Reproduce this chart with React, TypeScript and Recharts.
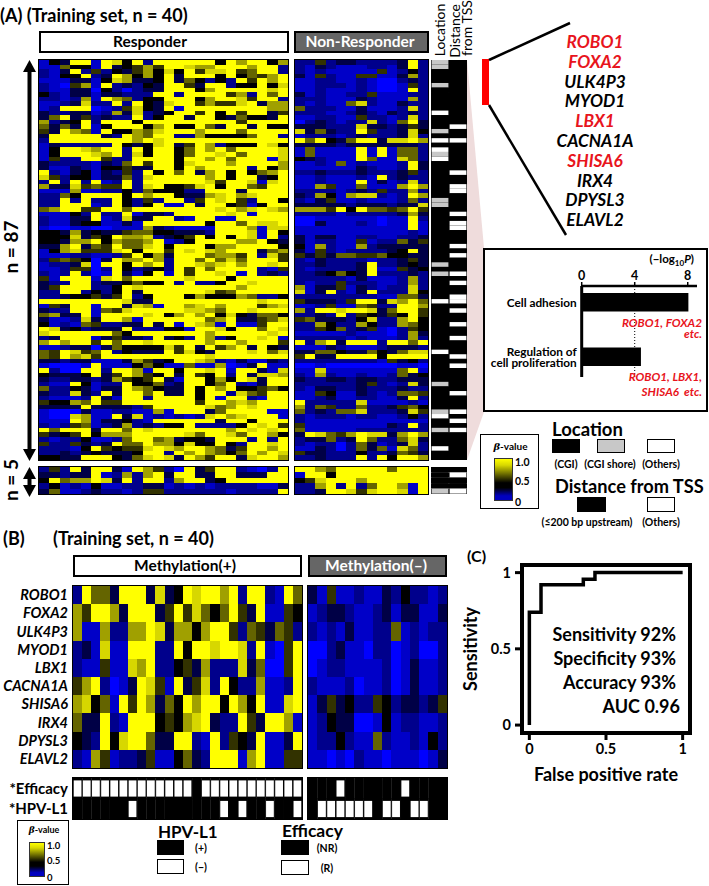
import React from 'react';
import {
  BarChart, Bar, LineChart, Line, XAxis, YAxis, ReferenceLine, ReferenceArea,
} from 'recharts';

// beta-value steps, digit 0 (blue) .. 4 (black) .. 9 (yellow)
const betaColors = ['#0000ff', '#0000c8', '#00008c', '#000046', '#000000', '#323200', '#646400', '#a0a000', '#d7d700', '#ffff00'];
const stripColors = ['#000000', '#c8c8c8', '#ffffff'];
const flagColors = ['#000000', '#ffffff'];

const responderRows = [
  '1 4 3 9 9 1 9 8 4 9 2 9 9 9 9 9 9 4 9 7 9 9 4 7',
  '1 1 6 4 4 1 9 3 4 5 7 5 9 9 8 7 7 9 9 9 7 9 9 2',
  '2 1 3 9 2 5 2 4 3 5 7 4 8 4 9 5 8 8 9 5 6 9 9 2',
  '2 1 4 4 9 2 3 9 7 4 7 4 9 3 9 9 9 4 9 4 6 5 7 9',
  '1 1 1 3 3 1 4 8 7 3 3 4 9 3 6 4 2 4 2 9 5 9 7 9',
  '2 1 0 5 7 1 9 2 3 2 4 3 9 9 5 3 9 9 2 4 4 9 4 8',
  '2 1 1 3 3 0 4 2 0 2 3 3 9 9 9 4 7 9 9 9 9 9 8 9',
  '4 2 1 3 3 1 3 3 2 2 2 9 9 2 9 9 9 9 5 7 2 9 6 9',
  '2 2 1 2 7 1 9 7 6 2 4 4 9 9 9 4 7 9 9 8 5 9 9 2',
  '1 1 2 3 8 2 2 9 2 9 4 3 8 9 9 5 7 5 5 8 9 3 7 7',
  '1 2 9 9 9 0 1 2 5 8 4 3 9 1 9 9 9 9 9 9 9 9 7 7',
  '3 2 2 3 3 1 2 7 3 8 2 3 4 9 9 5 9 4 9 5 9 9 3 5',
  '3 6 9 3 5 2 3 2 2 9 2 4 9 9 3 9 9 4 3 6 4 4 3 9',
  '7 2 3 4 9 2 9 9 9 4 9 9 9 9 9 9 9 9 9 5 9 9 9 9',
  '6 3 6 3 9 1 4 9 9 9 4 7 9 4 4 9 6 3 9 9 3 9 4 4',
  '5 3 9 7 6 1 9 4 4 7 6 8 9 9 9 7 9 9 9 6 9 9 9 9',
  '3 9 9 9 9 9 3 2 9 7 6 9 9 2 2 7 4 4 4 4 6 9 9 2',
  '2 9 9 9 9 9 9 9 9 7 9 8 9 9 9 9 9 9 9 9 9 9 9 9',
  '1 3 2 2 2 2 2 9 4 3 4 8 9 3 5 9 7 2 4 4 4 9 8 4',
  '1 4 9 9 8 7 9 9 2 9 4 9 9 4 6 9 7 9 6 9 9 9 9 8',
  '1 4 9 9 9 8 7 9 2 8 4 9 9 4 6 9 9 8 9 6 9 9 9 8',
  '1 5 2 2 9 9 5 2 2 9 9 9 9 4 9 9 7 9 6 9 9 9 1 8',
  '3 2 2 2 2 1 3 2 6 9 5 9 9 4 8 9 9 9 7 9 9 9 9 7',
  '3 1 1 3 2 1 4 4 5 3 3 9 9 4 9 7 9 9 9 9 2 9 4 7',
  '9 2 1 3 4 1 3 2 5 2 9 4 9 6 9 3 7 9 4 9 4 6 7 9',
  '8 5 2 4 4 1 3 3 6 2 8 9 9 9 9 9 7 9 4 9 9 3 4 9',
  '2 9 2 9 2 9 1 2 9 2 9 9 9 9 9 9 8 5 9 9 8 1 8 9',
  '7 3 3 8 5 6 5 5 9 2 8 9 4 4 5 8 9 4 9 9 6 5 9 9',
  '1 1 1 7 1 1 2 2 4 2 6 4 4 4 2 2 9 9 9 3 9 9 9 9',
  '2 2 6 4 9 9 9 9 4 9 7 9 9 4 3 3 7 8 9 7 8 9 9 9',
  '2 2 9 2 9 2 2 9 4 2 5 2 9 9 2 5 9 8 9 5 2 9 9 4',
  '2 2 9 9 9 1 2 9 4 2 4 9 1 1 9 3 9 9 4 5 1 4 9 9',
  '6 7 9 9 5 5 9 9 6 9 9 9 9 9 9 9 9 8 9 7 8 9 8 7',
  '1 1 1 4 2 9 2 2 9 1 3 3 2 9 9 9 9 9 8 9 1 9 9 9',
  '2 1 1 3 3 9 1 2 8 3 3 9 9 2 1 9 9 1 1 9 9 9 9 9',
  '2 1 1 3 4 4 1 1 3 1 9 9 9 9 9 9 4 9 9 6 9 8 8 9',
  '1 0 0 1 1 0 0 1 1 1 7 3 2 1 1 1 1 9 9 9 7 1 8 8',
  '4 4 3 7 3 4 3 3 5 6 6 4 4 3 3 3 2 9 9 9 8 1 9 4',
  '4 4 4 8 3 5 4 9 7 7 8 2 3 4 5 9 4 9 4 9 8 1 9 2',
  '4 4 3 7 7 9 4 7 6 6 7 9 1 2 4 9 9 9 9 7 7 9 4 3',
  '3 3 7 9 3 6 5 9 6 6 8 9 4 9 9 9 4 7 7 9 9 9 9 4',
  '1 4 7 8 5 5 5 8 9 4 9 9 5 9 8 9 8 7 9 9 9 3 6 7',
  '1 1 1 2 2 1 1 2 5 9 4 7 3 9 9 9 6 7 7 5 9 2 8 5',
  '2 5 6 5 4 0 3 9 7 7 9 7 2 9 9 6 9 6 8 6 9 9 9 5',
  '1 2 2 3 8 0 9 9 4 9 7 9 2 9 9 8 7 8 9 7 9 9 8 9',
  '1 1 2 5 5 0 2 9 4 2 3 4 2 9 5 9 6 9 9 9 9 2 1 5',
  '2 1 2 9 2 0 1 9 3 1 4 9 1 9 5 9 9 8 9 1 9 2 3 2',
  '5 1 9 9 9 1 8 9 6 9 9 9 9 9 8 9 9 9 4 9 9 9 9 9',
  '3 2 2 9 9 2 3 3 4 6 4 4 9 2 9 2 2 4 9 9 8 9 9 9',
  '3 5 9 9 9 2 2 4 9 8 9 9 9 9 9 9 9 9 9 7 9 9 9 9',
  '2 2 9 9 2 4 2 4 9 3 9 9 9 9 9 9 8 5 6 9 9 9 9 9',
  '2 2 3 4 4 5 3 5 9 2 4 9 9 9 4 7 4 4 4 7 6 2 2 4',
  '9 9 9 9 9 9 9 9 8 3 3 9 9 9 9 9 9 9 9 9 9 8 9 9',
  '1 5 3 9 9 1 9 9 3 8 7 1 9 9 7 8 9 7 9 9 9 5 7 8',
  '3 2 2 9 9 1 6 5 8 9 9 9 9 9 8 8 7 6 9 9 8 9 9 9',
  '6 7 3 3 9 1 9 9 9 9 8 9 4 7 9 7 9 4 8 4 3 6 6 4',
  '3 1 1 2 8 3 9 9 7 1 9 9 9 9 9 9 6 7 9 3 3 5 6 8',
  '4 1 2 1 6 5 2 2 3 3 9 3 9 1 9 8 7 1 9 1 1 5 9 9',
  '9 8 3 4 2 3 3 3 9 2 2 2 4 4 1 9 9 8 4 9 9 6 9 8',
  '8 9 9 9 9 9 9 6 4 9 9 9 9 9 9 9 7 9 9 9 9 9 8 9',
  '2 3 9 9 9 1 3 5 3 3 2 9 3 4 2 9 7 2 4 9 9 8 9 1',
  '7 9 7 9 9 5 9 6 9 9 8 9 9 9 9 9 7 9 9 7 9 9 9 5',
  '1 1 2 3 3 0 3 6 4 4 4 4 8 5 9 3 9 5 7 9 3 9 4 3',
  '6 5 9 8 5 6 9 2 4 3 3 3 9 5 8 4 3 9 9 9 8 9 6 8',
  '6 5 9 7 8 5 9 9 9 9 9 9 9 9 9 9 8 9 9 9 9 9 9 9',
  '3 3 2 3 3 1 1 1 3 7 5 3 4 9 9 8 7 2 1 3 1 1 3 2',
  '1 0 0 0 1 9 1 1 1 4 6 4 1 1 6 1 1 7 0 1 3 9 1 1',
  '9 2 0 0 9 9 2 9 9 7 1 9 9 4 9 9 8 9 1 9 9 3 1 8',
  '4 3 3 3 4 9 3 5 9 7 5 4 9 3 9 5 4 9 2 9 3 8 8 7',
  '3 2 2 3 3 2 3 7 5 4 5 9 3 1 9 9 4 7 4 9 8 3 9 9',
  '2 1 1 9 4 1 2 2 9 4 4 6 2 3 9 9 4 6 9 2 1 3 9 9',
  '6 2 2 4 3 1 3 3 9 7 6 4 3 3 9 4 9 7 9 4 4 5 6 4',
  '3 2 2 8 3 2 9 3 9 9 6 9 3 3 9 4 9 9 2 8 6 5 9 9',
  '2 1 1 1 2 9 3 1 9 9 2 9 9 9 9 4 9 1 9 9 2 1 9 9',
  '5 4 4 7 6 9 5 5 9 9 9 9 9 9 9 5 9 9 7 8 7 9 9 9',
  '3 3 3 3 9 3 3 3 3 2 5 9 9 9 9 9 8 6 7 9 8 9 9 9',
  '1 0 0 0 3 1 1 2 2 1 1 7 1 9 9 9 3 6 9 9 9 9 1 1',
  '1 0 0 8 7 1 1 9 3 8 1 2 1 2 1 2 8 9 7 8 9 9 9 1',
  '1 1 1 9 7 1 3 3 4 2 1 9 9 9 9 9 9 3 9 9 4 9 9 9',
  '2 1 2 5 6 1 2 3 7 2 3 2 4 4 9 2 2 2 2 4 9 8 9 5',
  '9 6 9 9 9 3 9 9 6 9 8 9 9 9 9 9 9 9 7 9 8 9 8 9',
  '5 3 4 5 9 4 7 7 7 9 9 9 9 9 8 6 9 9 8 6 9 9 7 4',
  '2 1 2 2 4 1 1 2 6 9 9 6 7 3 4 4 3 9 9 9 2 9 2 9',
  '5 2 2 5 3 2 3 9 6 6 9 7 7 4 8 4 4 9 4 2 9 9 8 9',
  '2 2 2 1 4 9 5 4 5 5 8 9 8 7 9 9 7 6 3 5 9 9 7 9',
  '2 2 3 2 3 4 3 3 3 4 9 9 2 9 7 9 7 6 4 6 9 7 9 8',
  '4 4 3 3 9 9 9 4 3 6 8 9 8 3 9 7 5 9 9 3 8 9 9 7',
];

const nonResponderRows = [
  '2 2 5 2 3 3 2 2 2 2 3 9 2',
  '2 1 3 2 1 1 1 2 2 1 3 9 2',
  '2 1 2 1 1 1 1 1 5 1 2 4 2',
  '3 1 5 2 1 1 5 5 1 1 3 7 2',
  '1 1 2 2 1 1 2 1 0 0 2 3 2',
  '1 1 2 2 2 1 2 1 0 0 1 5 2',
  '1 1 2 1 1 1 2 1 0 0 1 9 2',
  '3 1 2 1 1 2 2 5 1 1 1 2 2',
  '2 2 2 1 1 1 3 2 1 1 1 7 2',
  '2 1 2 1 1 6 8 2 1 1 3 2 2',
  '6 2 2 2 1 1 3 1 1 1 2 8 2',
  '2 2 2 1 1 2 3 2 1 3 2 3 2',
  '1 1 2 2 1 1 5 2 2 1 2 8 2',
  '0 2 3 2 1 2 2 8 2 1 6 9 3',
  '3 3 3 2 2 2 8 3 3 2 3 5 3',
  '8 3 6 3 2 2 9 5 2 2 3 8 4',
  '1 2 2 2 1 2 3 2 2 2 3 8 2',
  '9 6 9 4 3 6 9 9 3 8 8 9 7',
  '3 3 3 3 2 3 3 3 3 3 3 3 2',
  '1 6 1 1 1 1 9 1 9 1 6 6 2',
  '1 6 1 1 1 1 9 1 9 1 6 6 2',
  '4 3 2 1 1 1 9 6 1 1 8 6 2',
  '1 1 2 1 6 1 2 1 1 1 2 9 3',
  '1 1 1 1 1 1 3 2 1 1 2 9 3',
  '2 2 3 2 2 2 3 2 2 2 3 5 2',
  '1 1 2 1 1 1 2 1 9 2 3 2 2',
  '1 1 2 1 1 1 9 1 3 1 2 8 2',
  '1 1 7 5 1 1 6 1 1 1 7 9 7',
  '2 2 2 2 1 2 3 2 5 2 2 7 2',
  '3 2 7 4 1 7 8 8 2 1 2 9 7',
  '2 1 3 5 1 1 2 1 1 1 2 6 2',
  '3 3 3 3 3 2 3 3 3 2 3 3 8',
  '7 7 7 5 9 4 9 6 6 5 6 9 5',
  '2 2 2 2 1 2 2 2 2 2 3 7 3',
  '0 0 1 1 1 1 1 1 0 1 1 9 2',
  '0 0 3 1 1 1 2 1 0 1 1 9 1',
  '1 1 1 1 1 1 1 1 1 1 1 9 1',
  '1 1 1 1 1 1 1 1 1 1 1 2 1',
  '3 1 3 3 1 1 2 2 1 1 2 2 3',
  '3 1 2 2 1 1 5 1 2 2 6 3 5',
  '4 1 7 2 1 1 7 2 3 3 3 3 3',
  '3 1 5 2 1 2 2 2 2 3 4 9 3',
  '5 3 5 3 6 6 5 5 6 4 4 3 3',
  '2 1 3 2 2 2 2 1 2 2 3 5 3',
  '2 2 3 2 2 2 3 9 2 2 3 4 3',
  '2 1 2 2 2 2 3 9 1 1 5 3 4',
  '2 2 3 4 6 4 3 9 2 2 2 3 2',
  '2 2 2 2 2 1 3 1 1 1 2 7 2',
  '2 1 2 2 5 2 2 2 1 1 2 7 2',
  '7 1 3 3 5 1 3 2 1 2 2 8 2',
  '8 1 3 9 2 1 3 9 2 2 2 8 4',
  '2 2 2 2 2 2 2 2 1 1 6 6 3',
  '5 3 3 3 2 5 9 9 3 8 7 9 6',
  '1 1 2 5 1 1 6 5 2 2 9 9 7',
  '7 2 9 9 8 9 9 8 3 6 9 9 5',
  '2 2 3 2 9 2 5 4 3 5 4 9 5',
  '5 6 3 3 3 2 4 8 2 2 7 9 4',
  '2 2 7 4 2 2 7 4 2 2 7 6 4',
  '2 2 5 4 6 2 3 5 1 0 2 5 4',
  '1 1 1 1 1 2 1 1 1 0 2 7 3',
  '2 2 2 2 2 1 2 1 1 1 2 7 2',
  '9 2 7 9 3 9 9 9 2 9 9 6 9',
  '1 1 1 3 2 1 1 1 2 3 3 3 2',
  '3 3 6 6 4 3 3 6 4 3 6 8 8',
  '5 9 3 3 9 9 9 9 4 9 9 9 9',
  '2 2 2 2 2 2 2 2 1 5 3 4 2',
  '0 0 1 0 0 0 0 0 0 0 1 1 0',
  '1 1 8 1 1 1 1 1 1 1 6 9 1',
  '2 1 7 2 1 1 2 1 1 2 6 3 4',
  '3 2 2 3 3 2 3 3 2 2 3 3 3',
  '2 2 2 2 2 2 3 5 2 1 2 8 3',
  '2 1 3 3 2 2 3 2 2 2 3 2 2',
  '1 1 5 4 1 1 3 2 1 2 6 6 5',
  '1 1 2 3 1 1 2 2 1 1 3 9 2',
  '9 2 2 2 2 2 8 1 1 1 1 2 1',
  '7 2 6 5 2 2 6 2 2 3 5 6 4',
  '6 2 3 2 6 6 8 2 2 2 3 8 5',
  '2 1 2 2 2 1 2 2 1 1 2 4 2',
  '2 1 1 1 1 1 1 1 1 1 1 1 1',
  '5 1 1 1 1 1 1 1 1 3 2 9 2',
  '6 1 1 1 1 1 2 2 2 2 2 2 2',
  '3 9 8 6 5 7 9 8 8 3 7 9 7',
  '2 3 3 6 2 3 9 6 2 2 6 8 3',
  '2 1 2 2 0 2 6 3 1 2 3 8 2',
  '1 1 3 2 0 2 6 3 6 1 8 6 2',
  '5 3 3 2 2 2 4 2 2 3 6 5 3',
  '2 2 3 2 2 2 9 2 9 4 9 9 7',
];

const responderFive = [
  '2 5 2 9 3 9 9 3 1 9 7 5 2 0 9 3 5 9 9 2 1 0 2 9',
  '3 3 2 3 3 9 1 2 7 2 7 9 3 9 9 3 3 9 9 3 3 3 9 9',
  '4 9 6 7 7 9 8 3 9 2 9 9 2 7 9 9 3 4 9 9 9 9 9 9',
  '2 4 1 2 1 4 1 1 2 2 3 3 1 2 1 2 1 2 2 2 2 1 1 3',
  '3 6 1 1 2 3 2 2 1 2 5 5 2 2 2 2 2 2 1 2 2 2 2 9',
];
const nonResponderFive = [
  '9 9 7 6 9 9 9 9 9 6 9 9 9',
  '1 9 9 4 9 9 9 9 9 9 9 9 9',
  '4 5 8 9 9 9 7 9 9 9 9 9 9',
  '2 2 7 9 2 9 2 6 9 9 7 1 9',
  '2 2 3 9 9 8 5 8 9 9 8 1 9',
];

// rows of panel A that are not plain black in the two side strips (0 black, 1 grey, 2 white)
const locationGrey = [0, 1, 5, 15, 20, 30, 31, 44, 46, 70, 76, 80];
const locationWhite = [11, 17, 19, 21, 52, 63, 77, 84];
const distanceWhite = [14, 17, 24, 27, 28, 33, 35, 36, 40, 42, 46, 48, 51, 52, 54, 57, 60, 64, 66, 72, 76, 78, 80];
const stripRows = responderRows.map((_, i) => {
  const loc = locationGrey.includes(i) ? '1' : locationWhite.includes(i) ? '2' : '0';
  return `${loc} ${distanceWhite.includes(i) ? '2' : '0'}`;
});
const stripFive = ['0 0', '0 2', '0 0', '0 0', '1 2'];

const genes = ['ROBO1', 'FOXA2', 'ULK4P3', 'MYOD1', 'LBX1', 'CACNA1A', 'SHISA6', 'IRX4', 'DPYSL3', 'ELAVL2'];
const redGenes = ['ROBO1', 'FOXA2', 'LBX1', 'SHISA6'];
const methPlusRows = [
  '2 9 6 6 3 9 9 9 3 8 3 4 9 8 9 9 7 9 2 9 9 2 1 9 6',
  '7 5 9 9 7 3 9 9 9 3 5 9 5 8 6 4 6 9 5 3 9 1 1 5 4',
  '7 1 1 7 2 2 7 7 9 8 3 7 7 4 7 9 9 5 2 6 5 3 6 5 2',
  '2 3 1 8 1 1 9 9 9 2 2 9 4 9 9 8 9 9 8 2 9 1 0 5 9',
  '2 1 1 5 1 1 8 7 9 2 2 4 5 3 7 2 2 2 8 3 6 0 0 5 9',
  '5 7 9 2 0 1 3 9 8 5 1 9 3 5 8 2 9 4 2 2 7 1 1 2 9',
  '7 8 4 6 1 9 5 9 7 3 6 4 9 7 9 9 4 9 7 4 9 1 1 8 9',
  '6 3 3 9 2 1 9 9 9 4 5 4 7 8 9 3 2 2 9 5 3 9 9 7 1',
  '4 3 2 9 4 8 9 9 6 3 3 9 9 2 1 9 2 5 4 3 9 1 1 3 9',
  '2 1 7 5 1 2 2 3 5 1 1 4 6 3 2 9 9 9 1 7 9 1 1 5 5',
];
const methMinusRows = [
  '3 1 5 1 1 2 1 1 3 2 4 2 2 1 2',
  '1 2 3 3 2 1 1 2 3 1 3 3 1 1 3',
  '2 1 2 1 3 1 1 2 2 6 1 2 1 2 2',
  '0 0 2 3 1 1 0 2 2 0 1 2 0 0 2',
  '0 1 2 2 1 1 1 1 2 0 1 3 1 1 2',
  '2 1 1 1 2 0 1 1 2 0 1 3 1 1 2',
  '1 3 5 3 4 2 2 5 4 2 3 3 2 3 5',
  '1 2 4 3 3 0 0 1 4 1 2 2 1 1 2',
  '1 2 2 4 2 1 1 6 2 1 1 2 1 4 2',
  '1 1 0 1 0 2 1 1 0 1 1 1 0 1 3',
];
const flagLabels = ['*Efficacy', '*HPV-L1'];
// 1 = white box: responder / HPV-L1 negative
const flagsPlus = [
  '1 1 1 1 1 1 1 1 1 1 1 1 1 0 1 1 1 1 1 1 1 1 1 1 1',
  '0 0 0 0 0 0 1 0 0 0 0 0 0 0 0 0 1 0 1 0 0 1 0 0 1',
];
const flagsMinus = [
  '0 0 0 1 0 0 0 0 0 0 1 0 0 0 0',
  '0 1 1 1 1 1 1 0 1 1 0 1 1 0 0',
];

const pathwayNames = ['Cell adhesion', 'Regulation of|cell proliferation'];
const pathwayScores = [8.05, 4.47];
const pathwayTicks = [0, 4, 8];

const rocFpr = [0, 0, 0.076, 0.076, 0.352, 0.352, 0.428, 0.428, 1];
const rocTpr = [0, 0.74, 0.74, 0.92, 0.92, 0.956, 0.956, 1, 1];
const rocTicks = [0, 0.5, 1];
const rocStats = ['Sensitivity 92%', 'Specificity 93%', 'Accuracy 93%', 'AUC 0.96'];

const FONT = 'Lato, "Noto Sans", sans-serif';
const INK = '#000';

function T({ x, y, size = 12, anchor = 'middle', weight = 700, italic = false, color = INK, rotate = 0, children }: any) {
  const tx = anchor === 'middle' ? '-50%' : anchor === 'end' ? '-100%' : '0';
  return (
    <div
      style={{
        position: 'absolute', left: x, top: y, whiteSpace: 'pre', lineHeight: 1,
        fontFamily: FONT, fontSize: size, fontWeight: weight, color,
        fontStyle: italic ? 'italic' : 'normal',
        transform: `translate(${tx}, -50%) rotate(${rotate}deg)`,
      }}
    >
      {children}
    </div>
  );
}

function Box({ x, y, w, h, fill = '#fff', border = 2 }: any) {
  return (
    <div style={{ position: 'absolute', left: x, top: y, width: w, height: h, boxSizing: 'border-box', background: fill, border: `${border}px solid #000` }} />
  );
}

function Heat({ rows, palette, x, y, w, h, labels, labelWidth = 0, labelStyle, insetX = 0, insetY = 0, frame = true }: any) {
  const grid: string[][] = rows.map((r: string) => r.split(' '));
  const cols = grid[0].length;
  const keys = grid[0].map((_, j) => `c${j}`);
  const table = grid.map((_, i) => {
    const row: any = { name: labels ? labels[i] : String(i) };
    keys.forEach((k) => { row[k] = 1; });
    return row;
  });
  const inset = insetX > 0 || insetY > 0;
  return (
    <>
      <div style={{ position: 'absolute', left: x - labelWidth, top: y }}>
        <BarChart
          width={w + labelWidth}
          height={h}
          data={table}
          layout="vertical"
          barCategoryGap={0}
          barGap={0}
          margin={{ top: 0, right: 0, bottom: 0, left: 0 }}
        >
          <XAxis type="number" domain={[0, cols]} hide />
          <YAxis
            type="category"
            dataKey="name"
            hide={!labels}
            width={labelWidth}
            interval={0}
            axisLine={false}
            tickLine={false}
            tick={labelStyle}
          />
          {keys.map((k, j) => (
            <Bar
              key={k}
              dataKey={k}
              stackId="heat"
              isAnimationActive={false}
              shape={(p: any) => {
                const fill = palette[Number(grid[p.index][j])];
                if (!inset) {
                  // slight overdraw so rounding never leaves a gap between cells
                  return <rect x={p.x} y={p.y} width={p.width + 0.6} height={p.height + 0.6} fill={fill} shapeRendering="crispEdges" />;
                }
                return (
                  <g>
                    <rect x={p.x} y={p.y} width={p.width + 0.3} height={p.height + 0.3} fill="#000" />
                    <rect
                      x={p.x + insetX}
                      y={p.y + insetY}
                      width={p.width - 2 * insetX}
                      height={p.height - 2 * insetY}
                      fill={fill}
                    />
                  </g>
                );
              }}
            />
          ))}
        </BarChart>
      </div>
      {frame && (
        <div style={{ position: 'absolute', left: x - 1.5, top: y - 1.5, width: w, height: h, border: '1.5px solid #000', pointerEvents: 'none' }} />
      )}
    </>
  );
}

function ColorKey({ x, y, w, h, barX, barY, barW, barH, labelSize }: any) {
  return (
    <>
      <Box x={x} y={y} w={w} h={h} border={1.5} />
      <div
        style={{
          position: 'absolute', left: barX, top: barY, width: barW, height: barH, boxSizing: 'border-box',
          border: '1px solid #333',
          background: 'linear-gradient(#ffff00 0%, #d8d800 15%, #000 58%, #000 70%, #0000c0 90%, #0000c0 100%)',
        }}
      />
      <T x={x + w / 2 + 1} y={barY - 12.5} size={labelSize - 0.5}><i style={{ fontFamily: '"DejaVu Serif", serif' }}>β</i>-value</T>
      <T x={barX + barW + 2} y={barY + 4} size={labelSize} anchor="start">1.0</T>
      <T x={barX + barW + 2} y={barY + barH * 0.54} size={labelSize} anchor="start">0.5</T>
      <T x={barX + barW + 2} y={barY + barH + 1} size={labelSize} anchor="start">0</T>
    </>
  );
}

const PathwayTick = ({ x, y, payload }: any) => {
  const lines = String(payload.value).split('|');
  return (
    <text x={x + 3} y={y + 4.5 - (lines.length - 1) * 5} textAnchor="end" fontFamily={FONT} fontWeight={700} fontSize={11.8} fill={INK}>
      {lines.map((l, i) => <tspan key={l} x={x + 3} dy={i ? 11 : 0}>{l}</tspan>)}
    </text>
  );
};

function PathwayChart() {
  const table = pathwayNames.map((name, i) => ({ name, score: pathwayScores[i] }));
  return (
    <div style={{ position: 'absolute', left: 483, top: 248 }}>
      <BarChart width={225} height={129} data={table} layout="vertical" margin={{ top: 0, right: 11, bottom: 0, left: 0 }}>
        <XAxis
          type="number"
          orientation="top"
          domain={[0, 8.7]}
          ticks={pathwayTicks}
          height={38}
          stroke="#000"
          axisLine={{ stroke: '#000', strokeWidth: 2.5 }}
          tickLine={{ stroke: '#000', strokeWidth: 1.5 }}
          tickSize={4}
          tick={{ fontFamily: FONT, fontWeight: 700, fontSize: 12.5, fill: INK }}
        />
        <YAxis
          type="category"
          dataKey="name"
          width={98.7}
          padding={{ top: -11, bottom: -7 }}
          interval={0}
          axisLine={{ stroke: '#000', strokeWidth: 3 }}
          tickLine={false}
          tick={<PathwayTick />}
        />
        <ReferenceLine x={4} stroke="#000" strokeDasharray="1 2" />
        <Bar dataKey="score" fill="#000" barSize={18.5} isAnimationActive={false} />
      </BarChart>
    </div>
  );
}

function RocChart() {
  const table = rocFpr.map((fpr, i) => ({ fpr, tpr: rocTpr[i] }));
  const tickStyle = { fontFamily: FONT, fontWeight: 700, fontSize: 14.5, fill: INK };
  const titleStyle = { fontFamily: FONT, fontWeight: 700, fontSize: 18, fill: INK };
  return (
    <div style={{ position: 'absolute', left: 455, top: 555 }}>
      <LineChart width={245} height={230} data={table} margin={{ top: 10, right: 10, bottom: 0, left: 0 }}>
        <XAxis
          type="number"
          dataKey="fpr"
          domain={[-0.048, 1.048]}
          ticks={rocTicks}
          allowDataOverflow
          height={52}
          axisLine={false}
          tickLine={{ stroke: '#000', strokeWidth: 3 }}
          tickSize={7}
          tickMargin={4}
          tick={tickStyle}
          label={{ value: 'False positive rate', position: 'insideBottom', offset: 4, style: titleStyle }}
        />
        <YAxis
          type="number"
          domain={[-0.052, 1.05]}
          ticks={rocTicks}
          allowDataOverflow
          width={67}
          axisLine={false}
          tickLine={{ stroke: '#000', strokeWidth: 3 }}
          tickSize={7}
          tickMargin={4}
          tick={tickStyle}
          label={{ value: 'Sensitivity', angle: -90, position: 'insideLeft', offset: 16, style: { ...titleStyle, textAnchor: 'middle' } }}
        />
        <ReferenceArea x1={-0.048} x2={1.048} y1={-0.052} y2={1.05} fill="none" stroke="#000" strokeWidth={4} ifOverflow="visible" />
        <Line type="linear" dataKey="tpr" stroke="#000" strokeWidth={3.5} dot={false} strokeLinejoin="miter" isAnimationActive={false} />
      </LineChart>
    </div>
  );
}

const geneTick = { fontFamily: FONT, fontWeight: 700, fontStyle: 'italic', fontSize: 14.5, fill: INK, dx: 3 };
const flagTick = { fontFamily: FONT, fontWeight: 700, fontSize: 15, fill: INK, dx: 3 };
const geneListY = [42, 62, 82, 101, 121, 141, 161, 181, 200, 220];
const statY = [634, 658, 682, 706];

export default function App() {
  return (
    <div style={{ position: 'absolute', left: 0, top: 0, width: 709, height: 886, background: '#fff', overflow: 'hidden' }}>
      <svg width={709} height={886} style={{ position: 'absolute', left: 0, top: 0 }}>
        <polygon points="467,60 484,248 484,412 467,460" fill="#efdcdc" />
        <rect x={482} y={59} width={7} height={46} fill="#ff0000" />
        <line x1={489} y1={60} x2={570} y2={23} stroke="#000" strokeWidth={2.5} />
        <line x1={489} y1={105} x2={566} y2={235} stroke="#000" strokeWidth={2.5} />
        <line x1={29.5} y1={68} x2={29.5} y2={452} stroke="#000" strokeWidth={4} />
        <polygon points="29.5,60 23,72 36,72" fill="#000" />
        <polygon points="29.5,461 23,449 36,449" fill="#000" />
        <line x1={29.5} y1={475} x2={29.5} y2={490} stroke="#000" strokeWidth={4} />
        <polygon points="29.5,467 23,479 36,479" fill="#000" />
        <polygon points="29.5,497 23,485 36,485" fill="#000" />
      </svg>

      <T x={0} y={15} size={18} anchor="start">(A) (Training set, n = 40)</T>
      <Box x={39} y={31} w={250} h={22} />
      <T x={150} y={42} size={15.5}>Responder</T>
      <Box x={294} y={31} w={135} h={22} fill="#666" />
      <T x={360} y={42} size={15.5} color="#fff">Non-Responder</T>
      <T x={440} y={30} size={14} weight={400} rotate={-90}>Location</T>
      <T x={455} y={31} size={14} weight={400} rotate={-90}>Distance</T>
      <T x={467} y={28} size={14} weight={400} rotate={-90}>from TSS</T>
      <T x={10} y={247} size={19} rotate={-90}>n = 87</T>
      <T x={10} y={480} size={19} rotate={-90}>n = 5</T>

      <Heat rows={responderRows} palette={betaColors} x={39} y={60} w={249} h={400} />
      <Heat rows={nonResponderRows} palette={betaColors} x={295} y={60} w={133} h={400} />
      <Heat rows={stripRows} palette={stripColors} x={431} y={60} w={36} h={400} insetX={0.6} frame={false} />
      <Heat rows={responderFive} palette={betaColors} x={39} y={467} w={249} h={27} />
      <Heat rows={nonResponderFive} palette={betaColors} x={295} y={467} w={133} h={27} />
      <Heat rows={stripFive} palette={stripColors} x={431} y={467} w={36} h={27} insetX={0.6} frame={false} />

      {genes.map((g, i) => (
        <T key={g} x={595} y={geneListY[i]} size={17.3} italic color={redGenes.includes(g) ? '#e8141c' : INK}>{g}</T>
      ))}

      <Box x={483} y={248} w={225} h={164} />
      <PathwayChart />
      <T x={694} y={260} size={11.5} anchor="end">(−log<sub style={{ fontSize: 8 }}>10</sub><i>P</i>)</T>
      <T x={702} y={323} size={11.7} italic anchor="end" color="#e8141c">ROBO1, FOXA2</T>
      <T x={702} y={334} size={11.7} italic anchor="end" color="#e8141c">etc.</T>
      <T x={702} y={377} size={11.7} italic anchor="end" color="#e8141c">ROBO1, LBX1,</T>
      <T x={702} y={392} size={11.7} italic anchor="end" color="#e8141c">SHISA6  etc.</T>

      <ColorKey x={480} y={434} w={59} h={75} barX={494} barY={458} barW={19} barH={43} labelSize={10.5} />

      <T x={552} y={429} size={18.5} anchor="start">Location</T>
      <Box x={552} y={439} w={28} h={14} fill="#000" />
      <Box x={597} y={439} w={28} h={14} fill="#c8c8c8" border={1} />
      <Box x={647} y={439} w={28} h={14} border={1} />
      <T x={566} y={464} size={10.5}>(CGI)</T>
      <T x={610} y={464} size={10.5}>(CGI shore)</T>
      <T x={661} y={464} size={10.5}>(Others)</T>
      <T x={555} y={486} size={18.2} anchor="start">Distance from TSS</T>
      <Box x={577} y={497} w={29} h={15} fill="#000" />
      <Box x={647} y={497} w={28} h={15} border={1} />
      <T x={587} y={522} size={10.5}>(≤200 bp upstream)</T>
      <T x={661} y={522} size={10.5}>(Others)</T>

      <T x={3} y={538} size={18} anchor="start">(B)</T>
      <T x={53} y={538} size={18} anchor="start">(Training set, n = 40)</T>
      <Box x={73} y={555} w={229} h={22} />
      <T x={185} y={566} size={15.5}>Methylation(+)</T>
      <Box x={308} y={555} w={139} h={22} fill="#666" />
      <T x={376} y={566} size={15.5} color="#fff">Methylation(–)</T>

      <Heat rows={methPlusRows} palette={betaColors} x={73} y={586} w={229} h={182} labels={genes} labelWidth={73} labelStyle={geneTick} />
      <Heat rows={methMinusRows} palette={betaColors} x={308} y={586} w={139} h={182} />
      <Heat rows={flagsPlus} palette={flagColors} x={73} y={778} w={229} h={41} labels={flagLabels} labelWidth={73} labelStyle={flagTick} insetX={0.7} insetY={2.4} />
      <Heat rows={flagsMinus} palette={flagColors} x={308} y={778} w={139} h={41} insetX={0.7} insetY={2.4} />

      <ColorKey x={17} y={820} w={52} h={65} barX={29} barY={842} barW={16} barH={35} labelSize={9.5} />

      <T x={158} y={831} size={17} anchor="start">HPV-L1</T>
      <Box x={157} y={840} w={27} h={15} fill="#000" />
      <Box x={157} y={859} w={27} h={15} border={1.5} />
      <T x={201} y={848} size={10.5}>(+)</T>
      <T x={201} y={867} size={10.5}>(−)</T>
      <T x={282} y={831} size={17.5} anchor="start">Efficacy</T>
      <Box x={281} y={840} w={28} h={15} fill="#000" />
      <Box x={281} y={860} w={28} h={15} border={1.5} />
      <T x={327} y={848} size={10.5}>(NR)</T>
      <T x={327} y={868} size={10.5}>(R)</T>

      <T x={467} y={556} size={16} anchor="start">(C)</T>
      <RocChart />
      {rocStats.map((s, i) => (
        <T key={s} x={i === 3 ? 680 : 676} y={statY[i]} size={18} anchor="end">{s}</T>
      ))}
    </div>
  );
}
